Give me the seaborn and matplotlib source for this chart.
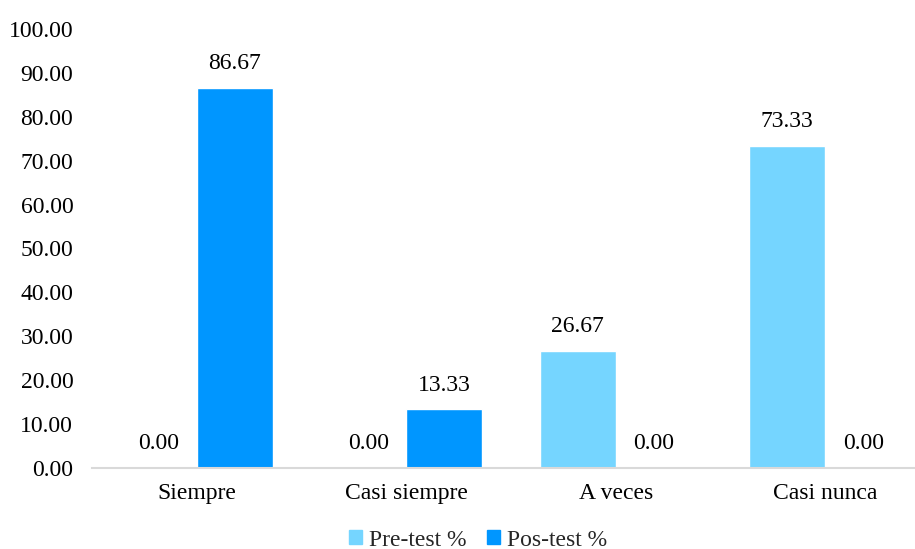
import matplotlib
matplotlib.use("Agg")
import matplotlib.pyplot as plt
from matplotlib.ticker import StrMethodFormatter, MultipleLocator
import seaborn as sns
import pandas as pd

categories = ["Siempre", "Casi siempre", "A veces", "Casi nunca"]
series_names = ["Pre-test %", "Pos-test %"]
pre_test = [0.00, 0.00, 26.67, 73.33]
pos_test = [86.67, 13.33, 0.00, 0.00]
colors = ["#75D5FF", "#0096FF"]

df = pd.DataFrame({
    "Categoría": categories * 2,
    "Serie": [series_names[0]] * len(categories) + [series_names[1]] * len(categories),
    "Valor": pre_test + pos_test,
})

sns.set_theme(style="white")
plt.rcParams["font.family"] = ["Liberation Serif", "DejaVu Serif"]

fig = plt.figure(figsize=(9.15, 5.49), dpi=100)
# axes reaches past the right edge of the figure
ax = fig.add_axes([92 / 915, 81 / 549, 838 / 915, 439 / 549])

sns.barplot(data=df, x="Categoría", y="Valor", hue="Serie", palette=colors,
            width=0.727, gap=0, saturation=1, ax=ax, legend=False,
            errorbar=None)

for cont in ax.containers:
    ax.bar_label(cont, fmt="%.2f", padding=10, fontsize=17, color="#000000")

ax.set_ylim(0, 100)
ax.set_xlim(-0.5, 3.5)
ax.yaxis.set_major_locator(MultipleLocator(10))
ax.yaxis.set_major_formatter(StrMethodFormatter("{x:.2f}"))
ax.set_xlabel("")
ax.set_ylabel("")
ax.tick_params(axis="both", length=0, labelsize=17, colors="#000000")
ax.tick_params(axis="y", pad=13.5)
ax.tick_params(axis="x", pad=10.5)

for side in ["left", "right", "top"]:
    ax.spines[side].set_visible(False)
ax.spines["bottom"].set_color("#D9D9D9")
ax.spines["bottom"].set_linewidth(1.5)
ax.grid(False)

handles = [plt.Rectangle((0, 0), 1, 1, color=c) for c in colors]
fig.legend(handles, series_names, loc="center", bbox_to_anchor=(478 / 915, 1 - 540 / 549),
           ncol=2, frameon=False, fontsize=17, handlelength=0.55, handleheight=0.55,
           handletextpad=0.3, columnspacing=0.85)

fig.savefig("out.png", dpi=100)
